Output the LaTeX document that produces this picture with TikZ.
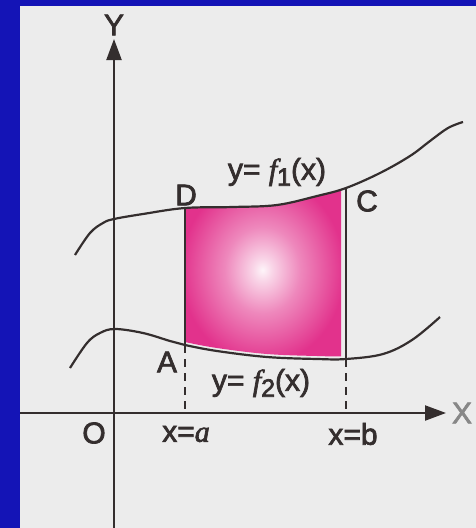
\documentclass[tikz,border=0pt]{standalone}
\usepackage{fontspec}
\setmainfont{Liberation Sans}
\newfontfamily\serifit{Liberation Serif}
\usetikzlibrary{arrows.meta}
\definecolor{bgblue}{RGB}{20,20,182}
\definecolor{paper}{RGB}{236,236,236}
\definecolor{ink}{RGB}{52,46,46}
\definecolor{pinkc}{RGB}{226,50,140}
\definecolor{xgray}{RGB}{135,135,135}
\pgfdeclareradialshading{pinkglow}{\pgfpoint{0bp}{0bp}}{color(0bp)=(white!95!pinkc); color(3bp)=(white!80!pinkc); color(12bp)=(white!42!pinkc); color(26bp)=(pinkc); color(50bp)=(pinkc)}
\newcommand{\itl}[1]{{\serifit\itshape #1}}
\newcommand{\lowsub}[1]{\raisebox{-0.2em}{\fontsize{25}{25}\selectfont #1}}
\newcommand{\heavy}[1]{\special{pdf:literal direct 2 Tr 0.7 w}#1\special{pdf:literal direct 0 Tr}}
\tikzset{
  lbl/.style={inner sep=0pt, text=ink, font=\fontsize{30}{33}\selectfont},
  curve/.style={draw=ink, line width=2.2pt},
  axis/.style={draw=ink, line width=2.2pt, -{Triangle[length=21pt,width=15pt]}},
  solidv/.style={draw=ink, line width=2.2pt},
  dashv/.style={draw=ink, line width=2.2pt, dash pattern=on 8pt off 6pt}
}
\begin{document}
\begin{tikzpicture}[x=1pt,y=-1pt]
\useasboundingbox (0,0) rectangle (476,528);
\fill[bgblue] (0,0) rectangle (476,528);
\fill[paper] (20,6) rectangle (476,528);
% shaded region
\begin{scope}
\clip (184,150) rectangle (341,400);
\clip plot[smooth,tension=0.6] coordinates {(75,255) (90,233) (103,223) (114,219) (143,214) (185,208) (233,207) (277,205) (317,196) (346,188) (380,173) (410,156) (430,141) (448,128) (463,122)} -- (463,520) -- (75,520) -- cycle;
\clip plot[smooth,tension=0.6] coordinates {(70,365) (87,340) (100,330) (115,326) (143,330) (170,338) (185,342) (217,348) (267,354) (317,356) (346,356) (383,351) (412,337) (440,314)} -- (440,0) -- (70,0) -- cycle;
\shade[shading=pinkglow] (184,180) rectangle (341,360);
\end{scope}
% curves
\path[curve] plot[smooth,tension=0.6] coordinates {(75,255) (90,233) (103,223) (114,219) (143,214) (185,208) (233,207) (277,205) (317,196) (346,188) (380,173) (410,156) (430,141) (448,128) (463,122)};
\path[curve] plot[smooth,tension=0.6] coordinates {(70,368) (87,343) (100,333) (115,329) (143,333) (170,341) (185,345) (217,351) (267,357) (317,359) (346,359) (383,354) (412,340) (440,317)};
% points
\coordinate (Dp) at (185,208);
\coordinate (Ap) at (185,345);
\coordinate (Cp) at (346,188);
\coordinate (Bp) at (346,359);
\coordinate (aax) at (185,413);
\coordinate (bax) at (346,413);
\coordinate (ybot) at (114,528);
\coordinate (ytop) at (114,39);
\coordinate (xleft) at (20,413);
\coordinate (xright) at (446,413);
% axes
\path[axis] (ybot) -- (ytop);
\path[axis] (xleft) -- (xright);
% verticals
\path[solidv] (Dp) -- (Ap);
\path[dashv] (Ap) -- (aax);
\path[solidv] (Cp) -- (Bp);
\path[dashv] (Bp) -- (bax);
% labels
\node[lbl] (Ylab) at (114,25) {\heavy{Y}};
\node[lbl, text=xgray] (Xlab) at (462,413) {\heavy{X}};
\node[lbl] (O) at (94,433) {\heavy{O}};
\node[lbl] (xa) at (186,434) {\heavy{x=\itl{a}}};
\node[lbl] (xb) at (353,434) {\heavy{x=b}};
\node[lbl] (D) at (186,195) {\heavy{D}};
\node[lbl] (C) at (367,201) {\heavy{C}};
\node[lbl] (A) at (167,362) {\heavy{A}};
\node[lbl] (f1) at (277,172) {\heavy{y= \itl{f}\lowsub{1}(x)}};
\node[lbl] (f2) at (261,383) {\heavy{y= \itl{f}\lowsub{2}(x)}};
\end{tikzpicture}
\end{document}
